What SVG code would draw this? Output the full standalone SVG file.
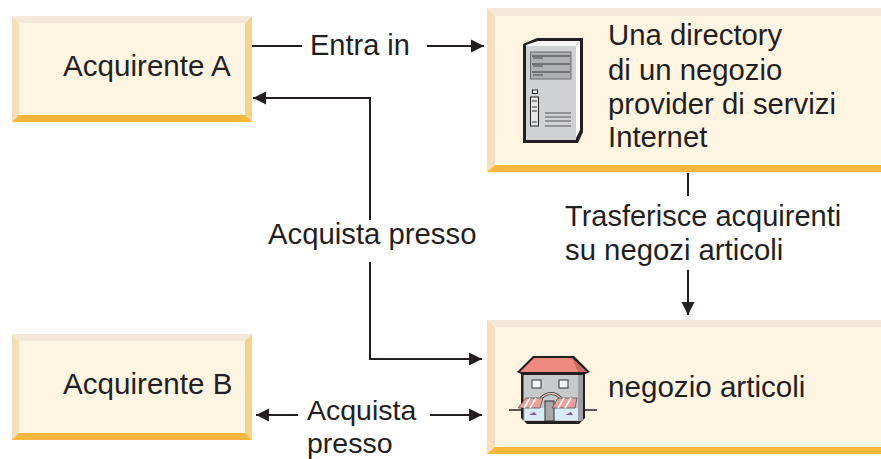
<svg xmlns="http://www.w3.org/2000/svg" width="881" height="459" viewBox="0 0 881 459">
<style>
text{font-family:"Liberation Sans",Arial,sans-serif;font-size:29.3px;fill:#231f20}
text.wide{font-size:29.6px}
text.narrow{font-size:29px}
text.small{font-size:28.5px}
.face{fill:#fef4e2}.top{fill:#f5e8d8}.left{fill:#f3dfbb}.right{fill:#f6d28b}.bot{fill:#f6b73c}
.c{fill:none;stroke:#231f20;stroke-width:2}
.ah{fill:#231f20}
</style>
<defs>
<marker id="a" markerUnits="userSpaceOnUse" markerWidth="14" markerHeight="14" refX="13" refY="7" orient="auto-start-reverse"><path d="M0,0.500L13,7L0,13.500z" class="ah"/></marker>
</defs>
<g id="connectors">
<path class="c" d="M252,46H302"/>
<path class="c" d="M427,46H484" marker-end="url(#a)"/>
<path class="c" d="M370,220V98H253" marker-end="url(#a)"/>
<path class="c" d="M370,262V359H482" marker-end="url(#a)"/>
<path class="c" d="M688,173V196"/>
<path class="c" d="M688,270V315" marker-end="url(#a)"/>
<path class="c" d="M298,415H256" marker-end="url(#a)"/>
<path class="c" d="M430,415H482" marker-end="url(#a)"/>
</g>
<g id="acquirente-a">
<rect class="face" x="12" y="16" width="240" height="106"/>
<path class="top" d="M12,16H252L245,23H19z"/>
<path class="left" d="M12,16L19,23V115L12,122z"/>
<path class="right" d="M252,16L245,23V115L252,122z"/>
<path class="bot" d="M12,122L19,115H245L252,122z"/>
<text class="wide" x="63" y="76">Acquirente A</text>
</g>
<g id="acquirente-b">
<rect class="face" x="12" y="334" width="240" height="106"/>
<path class="top" d="M12,334H252L245,341H19z"/>
<path class="left" d="M12,334L19,341V433L12,440z"/>
<path class="right" d="M252,334L245,341V433L252,440z"/>
<path class="bot" d="M12,440L19,433H245L252,440z"/>
<text class="wide" x="63" y="394">Acquirente B</text>
</g>
<g id="directory">
<path class="face" d="M487,8H881V172H487z"/>
<path class="top" d="M487,8H881V16H495z"/>
<path class="left" d="M487,8L495,16V165L487,172z"/>
<path class="bot" d="M487,172L495,165H881V172z"/>
<path d="M523,44L537,38H583V132L578,143H523z" fill="#231f20"/>
<path d="M526,45L538,41H580L576,46H526z" fill="#f4f4f4"/>
<path d="M526,46H576V140H526z" fill="#cfd1d3"/>
<path d="M576,46L580,41V130L576,138z" fill="#fff"/>
<rect x="530.500" y="52" width="40.500" height="27" fill="#aeb0b2" stroke="#555" stroke-width="0.800"/>
<path d="M532,56H570M532,64H570M532,72H570" stroke="#333" stroke-width="1"/>
<path d="M533,58H543M533,66H543M533,75H543" stroke="#333" stroke-width="0.800"/>
<rect x="532.500" y="90" width="5" height="3.500" fill="#fff" stroke="#222"/>
<rect x="530.500" y="97" width="8" height="29" fill="#e6e6e6" stroke="#222"/>
<path d="M532,101H537M532,107H537M532,111H537M532,122H537" stroke="#333" stroke-width="1.200"/>
<path d="M545,113H571M545,117H571M545,121H571M545,126H571" stroke="#555" stroke-width="1"/>
<text x="608" y="45">Una directory</text>
<text x="608" y="80">di un negozio</text>
<text x="608" y="114">provider di servizi</text>
<text x="608" y="147">Internet</text>
</g>
<g id="negozio">
<path class="face" d="M487,320H881V454H487z"/>
<path class="top" d="M487,320H881V327H495z"/>
<path class="left" d="M487,320L495,327V447L487,454z"/>
<path class="bot" d="M487,454L495,447H881V454z"/>
<path d="M509,410H597" stroke="#231f20" stroke-width="1.600"/>
<path d="M521,372H585V418L579,424H527L521,418z" fill="#231f20"/>
<path d="M523.500,373H583V421H523.500z" fill="#c7c9cb"/>
<path d="M578,373H583V421H578z" fill="#9ea0a3"/>
<path d="M517,372L533,356H574L590,372L583,375H523z" fill="#231f20"/>
<path d="M520,372L534,358H572L587,372z" fill="#ee8a80"/>
<path d="M572,358L587,372L578,372z" fill="#c96a62"/>
<rect x="532" y="380" width="9" height="8" fill="#f3f3f3" stroke="#333"/>
<rect x="559" y="380" width="9" height="8" fill="#f3f3f3" stroke="#333"/>
<path d="M525,408H578V420H525z" fill="#d9ecf5"/>
<path d="M529,415l5,-3l3,3zM565,415l6,-3l2,3z" fill="#7a5fa0"/>
<rect x="545" y="401" width="9" height="20" fill="#a9a9a9" stroke="#333"/>
<path d="M541,398Q551,389 561,398" fill="none" stroke="#333" stroke-width="3"/>
<path d="M541,398Q551,389 561,398" fill="none" stroke="#f3c8c0" stroke-width="1.500"/>
<path d="M518,408L526,398H543L540,408z" fill="#e7a39b" stroke="#444" stroke-width="0.700"/>
<path d="M552,408L558,398H577L575,408z" fill="#e7a39b" stroke="#444" stroke-width="0.700"/>
<path d="M524,408L530,398M530,408L536,398M558,408L564,398M565,408L571,398" stroke="#fff" stroke-width="1.500"/>
<text class="wide" x="608" y="397">negozio articoli</text>
</g>
<g id="labels">
<text class="narrow" x="310" y="55">Entra in</text>
<text x="268" y="244">Acquista presso</text>
<text class="narrow" x="565" y="226">Trasferisce acquirenti</text>
<text x="565" y="260">su negozi articoli</text>
<text class="small" x="307" y="420">Acquista</text>
<text class="small" x="307" y="452.900">presso</text>
</g>
</svg>
